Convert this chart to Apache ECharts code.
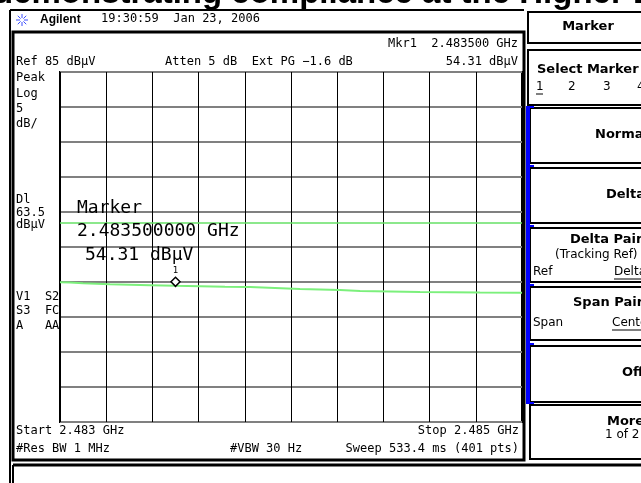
<!DOCTYPE html>
<html>
<head>
<meta charset="utf-8">
<script src="https://cdn.jsdelivr.net/npm/echarts@6/dist/echarts.min.js"></script>
<style>
  html, body { margin: 0; background: #fff; }
  #main { width: 641px; height: 483px; }
</style>
</head>
<body>
<div id="main"></div>
<script>
// trace (GHz, dBuV)
const freqGHz = [2.483000, 2.483043, 2.483100, 2.483216, 2.483303, 2.483390, 2.483500,
  2.483606, 2.483714, 2.483823, 2.483931, 2.484039, 2.484126, 2.484212, 2.484299,
  2.484429, 2.484558, 2.484688, 2.484818, 2.485000];
const levelDbuv = [54.96, 54.93, 54.81, 54.67, 54.62, 54.55, 54.45, 54.40, 54.33, 54.27,
  54.14, 54.00, 53.92, 53.84, 53.72, 53.66, 53.58, 53.55, 53.50, 53.45];
const startGHz = 2.483, stopGHz = 2.485, freqStep = 0.0002;
const refLevel = 85, bottomLevel = 35, dbPerDiv = 5;
const displayLine = 63.5;
const markerFreq = 2.4835, markerLevel = 54.31;

const mono = '12px "DejaVu Sans Mono"';
const bigMono = '18px "DejaVu Sans Mono"';
const menuBold = 'bold 13px "DejaVu Sans"';
const menuNorm = '12px "DejaVu Sans"';

function txt(x, y, s, font, align, color) {
  return { type: 'text', x: x, y: y, z: 10, style: { text: s, font: font || mono, fill: color || '#000',
    textAlign: align || 'left', textVerticalAlign: 'middle' } };
}
function box(x, y, w, h, lw) {
  return { type: 'rect', z: 5, shape: { x: x, y: y, width: w, height: h },
    style: { fill: 'none', stroke: '#000', lineWidth: lw || 2 } };
}
function ln(x1, y1, x2, y2, color, lw) {
  return { type: 'line', z: 6, shape: { x1: x1, y1: y1, x2: x2, y2: y2 },
    style: { stroke: color || '#000', lineWidth: lw || 1 } };
}

const myChart = echarts.init(document.getElementById('main'));

let graphics = [
  // cut-off heading of the page above
  { type: 'text', x: -7, y: 10, z: 4, style: { text: 'demonstrating compliance at the Higher Band Edge',
    font: 'bold 33px "Liberation Sans"', fill: '#000', textVerticalAlign: 'bottom' } },
  { type: 'rect', z: 4, shape: { x: 11, y: 11, width: 630, height: 4 }, style: { fill: '#fff' } },
  // frames
  ln(10, 10, 10, 483, '#000', 2),
  ln(10, 10, 524, 10, '#000', 2),
  box(13, 32, 511, 428, 3),
  ln(13, 465, 641, 465, '#000', 3),
  ln(13, 465, 13, 483, '#000', 2),
  // header
  txt(40, 20, 'Agilent', 'bold 12px "Liberation Sans"'),
  txt(101, 19, '19:30:59  Jan 23, 2006'),
  // annotations inside the screen
  txt(518, 44, 'Mkr1  2.483500 GHz', mono, 'right'),
  txt(16, 62, 'Ref 85 dB\u03bcV'),
  txt(165, 62, 'Atten 5 dB  Ext PG \u22121.6 dB'),
  txt(518, 62, '54.31 dB\u03bcV', mono, 'right'),
  txt(16, 78, 'Peak'), txt(16, 94, 'Log'), txt(16, 109, '5'), txt(16, 124, 'dB/'),
  txt(16, 200, 'Dl'), txt(16, 213, '63.5'), txt(16, 225, 'dB\u03bcV'),
  txt(16, 297, 'V1  S2'), txt(16, 311, 'S3  FC'), txt(16, 326, 'A   AA'),
  txt(77, 208, 'Marker', bigMono),
  txt(77, 231, '2.483500000 GHz', bigMono),
  txt(85, 255, '54.31 dB\u03bcV', bigMono),
  txt(16, 431, 'Start 2.483 GHz'),
  txt(519, 431, 'Stop 2.485 GHz', mono, 'right'),
  txt(16, 449, '#Res BW 1 MHz'),
  txt(230, 449, '#VBW 30 Hz'),
  txt(519, 449, 'Sweep 533.4 ms (401 pts)', mono, 'right'),
  // soft key panel
  box(528, 12, 120, 31),
  txt(588, 27, 'Marker', menuBold, 'center'),
  box(528, 50, 120, 55),
  txt(537, 70, 'Select Marker', menuBold),
  txt(536, 87, '1', menuNorm), txt(568, 87, '2', menuNorm),
  txt(603, 87, '3', menuNorm), txt(637, 87, '4', menuNorm),
  ln(536, 94, 543, 94),
  box(530, 108, 118, 55), txt(595, 135, 'Normal', menuBold),
  box(530, 168, 118, 55), txt(606, 195, 'Delta', menuBold),
  box(530, 228, 118, 54), txt(570, 240, 'Delta Pair', menuBold),
  txt(555, 255, '(Tracking Ref)', menuNorm),
  txt(533, 272, 'Ref', menuNorm), txt(614, 272, 'Delta', menuNorm),
  ln(614, 279, 641, 279),
  box(530, 287, 118, 53), txt(573, 303, 'Span Pair', menuBold),
  txt(533, 323, 'Span', menuNorm), txt(612, 323, 'Center', menuNorm),
  ln(612, 330, 641, 330),
  box(530, 346, 118, 56), txt(622, 373, 'Off', menuBold),
  box(530, 405, 118, 54), txt(607, 422, 'More', menuBold),
  txt(605, 435, '1 of 2', menuNorm),
  // blue active bar
  { type: 'rect', z: 7, shape: { x: 526, y: 106, width: 4, height: 298 }, style: { fill: '#0000ff' } }
];
[106, 165, 225, 284, 343, 402].forEach(function (y) {
  graphics.push({ type: 'rect', z: 7, shape: { x: 526, y: y, width: 8, height: 2 }, style: { fill: '#0000ff' } });
});
// Agilent spark logo
for (let i = 0; i < 8; i++) {
  const a = i * Math.PI / 4;
  graphics.push(ln(22 + 2 * Math.cos(a), 20 + 2 * Math.sin(a), 22 + 6 * Math.cos(a), 20 + 6 * Math.sin(a), '#3a4cff', 1));
}

const option = {
  backgroundColor: '#fff',
  animation: false,
  grid: { left: 60, top: 72, width: 462, height: 350, show: true, borderColor: '#000', borderWidth: 2, backgroundColor: 'transparent' },
  xAxis: {
    type: 'value', min: startGHz, max: stopGHz, interval: freqStep,
    axisLine: { show: false }, axisTick: { show: false }, axisLabel: { show: false },
    splitLine: { show: true, lineStyle: { color: '#000', width: 1 } }
  },
  yAxis: {
    type: 'value', min: bottomLevel, max: refLevel, interval: dbPerDiv,
    axisLine: { show: false }, axisTick: { show: false }, axisLabel: { show: false },
    splitLine: { show: true, lineStyle: { color: '#808080', width: 2 } }
  },
  series: [{
    type: 'line',
    data: freqGHz.map(function (f, i) { return [f, levelDbuv[i]]; }),
    symbol: 'none',
    lineStyle: { color: '#7cf07c', width: 2 },
    z: 3,
    markLine: {
      silent: true, symbol: 'none', label: { show: false },
      lineStyle: { color: '#66e066', width: 1.5, type: 'solid' },
      data: [{ yAxis: displayLine }]
    },
    markPoint: {
      silent: true,
      symbol: 'diamond', symbolSize: [9, 9], symbolOffset: [0, -5],
      itemStyle: { color: '#fff', borderColor: '#000', borderWidth: 1.5 },
      label: { show: true, position: 'top', distance: 1, formatter: '1', color: '#000', fontSize: 9, fontFamily: 'DejaVu Sans Mono' },
      data: [{ coord: [markerFreq, markerLevel] }]
    }
  }],
  graphic: graphics
};
myChart.setOption(option);
</script>
</body>
</html>
